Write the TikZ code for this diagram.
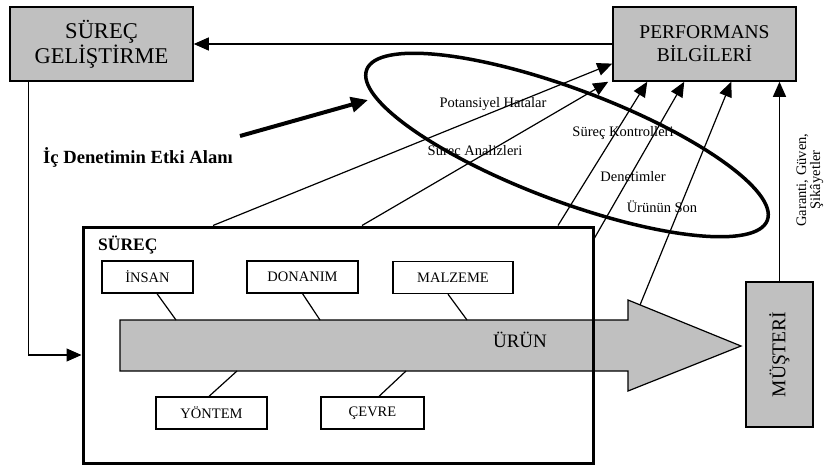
\documentclass[tikz,border=0pt]{standalone}
\usepackage{fontspec}
\setmainfont{Liberation Serif}
\usetikzlibrary{arrows.meta}
\definecolor{boxgray}{HTML}{C0C0C0}
\tikzstyle{infobox}=[draw, fill=boxgray, line width=1.5pt, align=center, inner sep=0pt]
\tikzstyle{factor}=[draw, fill=white, line width=1.3pt, inner sep=0pt, minimum height=32pt, font=\fontsize{14.5}{16}\selectfont]
\tikzstyle{flow}=[line width=1.2pt, -{Triangle[length=15pt,width=13pt]}]
\tikzstyle{note}=[inner sep=0pt, font=\fontsize{14.5}{16}\selectfont]
\newcommand{\factor}{\node[factor]}

\begin{document}
\begin{tikzpicture}[x=1pt,y=-1pt]
\useasboundingbox (0,0) rectangle (825,466);
% kutular
\node[infobox, minimum width=183pt, minimum height=74pt, font=\fontsize{22.5}{25}\selectfont] (gel) at (101.5,44) {SÜREÇ\\GELİŞTİRME};
\node[infobox, minimum width=183pt, minimum height=74pt, font=\fontsize{19.5}{23}\selectfont] (perf) at (704.5,44) {PERFORMANS\\BİLGİLERİ};
\node[infobox, rotate=90, minimum width=145pt, minimum height=67pt, font=\fontsize{19.5}{23}\selectfont] (mus) at (779.5,354.5) {MÜŞTERİ};
% urun oku
\draw[fill=boxgray, line width=1.2pt] (120,320) -- (628,320) -- (628,300) -- (741,346) -- (628,391) -- (628,371) -- (120,371) -- cycle;
\node[font=\fontsize{19}{22}\selectfont] (urun) at (520,340) {ÜRÜN};
\node[draw, line width=3pt, minimum width=510pt, minimum height=236pt] (surec) at (338,345) {};
\node[anchor=west, inner sep=0pt, font=\bfseries\fontsize{17.5}{20}\selectfont] (surlbl) at (98,245) {SÜREÇ};
\foreach \nm/\cx/\cy/\w/\txt in {insan/147.5/277/91/İNSAN, donanim/302.5/277/111/DONANIM, malzeme/453/277.5/120/MALZEME, yontem/211.5/413/111/YÖNTEM, cevre/372.5/413/103/ÇEVRE}
	\factor[minimum width=\w pt] (\nm) at (\cx,\cy) {\txt};
\coordinate (pIns) at (176,320);
\coordinate (pDon) at (320,320);
\coordinate (pMal) at (467,320);
\coordinate (pYon) at (237,371);
\coordinate (pCev) at (406,371);
\coordinate (pHead) at (640,305);
\draw[line width=1.2pt] ([xshift=9.5pt]insan.south) -- (pIns) (donanim.south) -- (pDon) ([xshift=-5pt]malzeme.south) -- (pMal);
\draw[line width=1.2pt] ([xshift=-2.5pt]yontem.north) -- (pYon) ([xshift=6.5pt]cevre.north) -- (pCev);
% etki alani
\draw[line width=3.5pt, rotate around={-20.6:(567,145)}] (567,145) ellipse [x radius=214pt, y radius=56pt];
\node[inner sep=0pt, font=\bfseries\fontsize{18.6}{21}\selectfont] (etki) at (138,157) {İç Denetimin Etki Alanı};
\coordinate (e1) at (240,136);
\coordinate (e2) at (368,100);
\draw[line width=4pt, -{Triangle[length=17pt,width=15pt]}] (e1) -- (e2);
% bilgi akisi
\draw[flow] (perf) -- (gel);
\draw[flow] ([xshift=19pt]gel.south west) |- ([yshift=-10pt]surec.west);
\draw[flow] ([xshift=-125pt]surec.north) -- (perf.192);
\draw[flow] ([xshift=24pt]surec.north) -- ([xshift=-4pt]perf.south west);
\draw[flow] ([xshift=220pt]surec.north) -- ([xshift=35pt]perf.south west);
\draw[flow] ([yshift=107pt]surec.east) -- ([xshift=72pt]perf.south west);
\draw[flow] (pHead) -- ([xshift=119pt]perf.south west);
\draw[flow] (mus.east) -- (mus.east |- perf.south);
\node[note] (ph) at (493,104) {Potansiyel Hatalar};
\node[note] (sa) at (475,152) {Süreç Analizleri};
\node[note] (sk) at (623,133) {Süreç Kontrolleri};
\node[note] (dn) at (633,177) {Denetimler};
\node[note] (us) at (662,207) {Ürünün Son};
\node[note, rotate=90, align=center, font=\fontsize{14.5}{14}\selectfont] (gar) at (810,180) {Garanti, Güven,\\Şikâyetler};
\end{tikzpicture}
\end{document}
